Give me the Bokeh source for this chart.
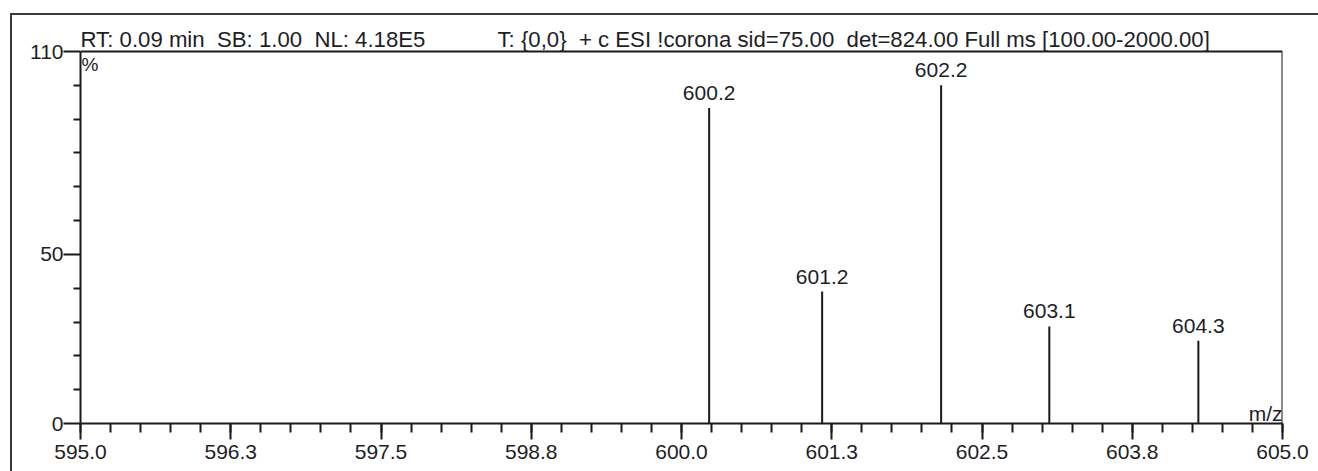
from bokeh.plotting import figure
from bokeh.models import ColumnDataSource, FixedTicker, Label, Range1d
from bokeh.core.properties import value
from bokeh.transform import dodge
from bokeh.embed import file_html
from bokeh.resources import INLINE

# Centroided mass spectrum: peak m/z and relative abundance (%)
peak_mz = [600.23, 601.17, 602.16, 603.06, 604.30]
peak_rel = [93.3, 39.0, 100.0, 28.7, 24.5]

# Axis ticks
x_major_ticks = [595.0, 596.25, 597.5, 598.75, 600.0, 601.25, 602.5, 603.75, 605.0]
x_tick_labels = ["595.0", "596.3", "597.5", "598.8", "600.0", "601.3", "602.5", "603.8", "605.0"]
x_minor_step = 0.25
y_major_ticks = [0, 50, 110]
y_minor_ticks = [10, 20, 30, 40, 60, 70, 80, 90, 100]
y_full_scale = 110

header_left = "RT: 0.09 min\u00a0 SB: 1.00\u00a0 NL: 4.18E5"
header_right = "T: {0,0}\u00a0 + c ESI !corona sid=75.00\u00a0 det=824.00 Full ms [100.00-2000.00]"

FONT = "Liberation Sans"
INK = "#1e1e26"
LINE = "#1a1a1a"
PAGE_EDGE = "#3a3a3a"

# geometry (pixels)
PLOT_W, PLOT_H = 1202, 372      # spectrum box
HEADER_H = 36                   # strip above the box holding the scan header
FRAME_H = PLOT_H + HEADER_H

x_min, x_max = x_major_ticks[0], x_major_ticks[-1]
n_minor = int(round((x_max - x_min) / x_minor_step))
x_minor_ticks = [x_min + i * x_minor_step for i in range(n_minor + 1)]
y_top = y_full_scale * FRAME_H / PLOT_H
px = y_full_scale / PLOT_H      # data units per pixel on the y axis

p = figure(frame_width=PLOT_W, frame_height=FRAME_H,
           min_border_left=68, min_border_right=36,
           min_border_top=0, min_border_bottom=48,
           x_range=Range1d(x_min, x_max), y_range=Range1d(0, y_top),
           output_backend="svg", toolbar_location=None,
           background_fill_color="white", border_fill_color="white",
           styles={"margin-left": "10px", "margin-top": "13px",
                   "border-left": f"2px solid {PAGE_EDGE}",
                   "border-top": f"2px solid {PAGE_EDGE}"})

p.grid.visible = False
p.outline_line_color = None

# x axis
xa = p.xaxis[0]
xa.ticker = FixedTicker(ticks=x_major_ticks, minor_ticks=x_minor_ticks)
xa.major_label_overrides = {t: lab for t, lab in zip(x_major_ticks, x_tick_labels)}
xa.axis_line_color = LINE
xa.axis_line_width = 2
xa.major_tick_line_color = LINE
xa.major_tick_line_width = 2
xa.major_tick_out = 16
xa.major_tick_in = 0
xa.minor_tick_line_color = LINE
xa.minor_tick_line_width = 2
xa.minor_tick_out = 9
xa.minor_tick_in = 0
xa.major_label_standoff = 5
xa.major_label_text_font = FONT
xa.major_label_text_font_size = "21px"
xa.major_label_text_color = INK

# y axis, limited to the 0-110 % scale
ya = p.yaxis[0]
ya.bounds = (0, y_full_scale)
ya.ticker = FixedTicker(ticks=y_major_ticks, minor_ticks=y_minor_ticks)
ya.axis_line_color = LINE
ya.axis_line_width = 2
ya.major_tick_line_color = LINE
ya.major_tick_line_width = 2
ya.major_tick_out = 17
ya.major_tick_in = 0
ya.minor_tick_line_color = LINE
ya.minor_tick_line_width = 2
ya.minor_tick_out = 7
ya.minor_tick_in = 0
ya.major_label_standoff = 0
ya.major_label_text_font = FONT
ya.major_label_text_font_size = "21px"
ya.major_label_text_color = INK

# top and right edges of the spectrum box
p.segment(x0=[x_min, x_max], y0=[y_full_scale, 0],
          x1=[x_max, x_max], y1=[y_full_scale, y_full_scale],
          line_color=LINE, line_width=2)

# stick spectrum
src = ColumnDataSource(dict(
    x=peak_mz,
    y0=[0] * len(peak_mz),
    y1=peak_rel,
    label=[f"{m:.1f}" for m in peak_mz],
))
p.segment(x0="x", y0="y0", x1="x", y1="y1", source=src,
          line_color=LINE, line_width=2)
p.text(x="x", y=dodge("y1", 15 * px), text="label", source=src,
       text_align="center", text_baseline="alphabetic",
       text_font=value(FONT), text_font_size="21px", text_color=INK)

# scan header above the box
p.add_layout(Label(x=x_min, y=y_full_scale + 12 * px, text=header_left,
                   text_baseline="alphabetic", text_font=FONT,
                   text_font_size="22.2px", text_color=INK))
p.add_layout(Label(x=x_min, y=y_full_scale + 12 * px, text=header_right, x_offset=417,
                   text_baseline="alphabetic", text_font=FONT,
                   text_font_size="22.2px", text_color=INK))

# axis unit captions
p.add_layout(Label(x=x_min, y=y_full_scale - 2 * px, text="%", x_offset=1,
                   text_baseline="top", text_font=FONT,
                   text_font_size="19px", text_color=INK))
p.add_layout(Label(x=x_max, y=10 * px, text="m/z",
                   text_align="right", text_baseline="alphabetic",
                   text_font=FONT, text_font_size="21px", text_color=INK))

open("out.html", "w").write(file_html(p, INLINE))
